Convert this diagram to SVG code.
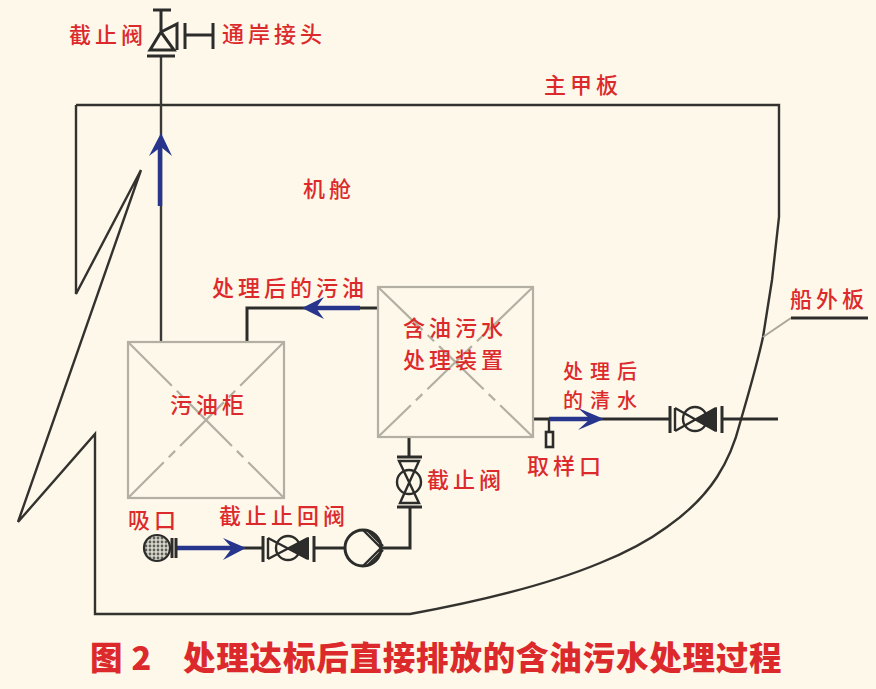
<svg xmlns="http://www.w3.org/2000/svg" width="876" height="689" viewBox="0 0 876 689">
<style>
.l{font-family:"Noto Sans CJK SC","Liberation Sans",sans-serif;font-size:22px;font-weight:500;fill:#dc2a2c;letter-spacing:4px}
.m{font-size:20px;letter-spacing:7px}
.c{font-family:"Noto Sans CJK SC","Liberation Sans",sans-serif;font-size:32.5px;font-weight:900;fill:#dc2a2c;letter-spacing:.8px}
.h{fill:none;stroke:#33322e;stroke-width:2.4;stroke-linejoin:miter}
.p{fill:none;stroke:#2c2c2a;stroke-width:3}
.s{fill:none;stroke:#3a3935;stroke-width:2.4}
.v{fill:none;stroke:#2c2c2a;stroke-width:2.4}
.f{fill:none;stroke:#2c2c2a;stroke-width:3}
.t{fill:none;stroke:#b3b0a3;stroke-width:2.2}
.d{fill:none;stroke:#b3b0a3;stroke-width:2.2;stroke-dasharray:62 7 9 7}
.b{fill:none;stroke:#27358c;stroke-width:4.5}
.a{fill:#27358c}
.k{fill:#2c2c2a}
</style>
<defs>
<pattern id="mesh" width="4" height="4" patternUnits="userSpaceOnUse"><rect width="4" height="4" fill="#d9d7cd"/><circle cx="2" cy="2" r="1.4" fill="#5f5f58"/></pattern>
</defs>
<rect width="876" height="689" fill="#fdf8ea"/>
<g id="hull">
<path class="h" d="M76 105H779V217L772 280L763 337C757 365 751 385 740 423C735 443 728 460 717 477C704 497 687 513 667 527C648 541 625 553 600 563C540 588 470 603 410 614H95V434L18 522L141 170L76 294V105"/>
<path d="M763 337L791 318" fill="none" stroke="#a9a698" stroke-width="2"/>
<path class="p" d="M791 318H868"/>
</g>
<g id="connectors">
<path class="s" d="M161 57V342"/>
<path class="p" d="M378 308H247V342"/>
<path class="p" d="M176 548H263M314 548H345M382 548H410V507"/>
<path class="p" d="M409 457V437"/>
<path class="p" d="M533 419H670M722 419H778"/>
<path class="v" d="M549 420V432"/>
<path class="b" d="M160 206V147"/><path class="a" d="M161 133L172 156L161 147L149 156Z"/>
<path class="b" d="M360 308H312"/><path class="a" d="M302 308L324 297L316 308L324 319Z"/>
<path class="b" d="M176 548H234"/><path class="a" d="M246 548L223 538L232 548L223 560Z"/>
<path class="b" d="M549 419H592"/><path class="a" d="M604 419L578 408L590 419L578 430Z"/>
</g>
<g id="tank-oil">
<rect class="t" x="128" y="342" width="156" height="156"/>
<path class="d" d="M128 342L284 498M284 342L128 498"/>
<text class="l" x="170" y="413">污油柜</text>
</g>
<g id="treatment-unit">
<rect class="t" x="378" y="287" width="155" height="150"/>
<path class="d" d="M378 287L533 437M533 287L378 437"/>
<text class="l" x="403" y="336">含油污水<tspan x="403" y="368">处理装置</tspan></text>
</g>
<g id="top-valve">
<path class="f" d="M153 10H171M161 10V32M147 56H175M150 50H174L161 32ZM161 32L177 24V50"/>
<path class="f" d="M185 23V49M185 35H213M213 23V49"/>
<text class="l" x="69" y="43">截止阀</text>
<text class="l" x="222" y="42">通岸接头</text>
</g>
<g id="unit-valve">
<path class="f" d="M397 457H422M397 507H422"/>
<path class="v" d="M399 461H419L400 503H419Z"/>
<circle class="v" cx="409" cy="482" r="12"/>
<text class="l" x="427" y="488">截止阀</text>
</g>
<g id="suction">
<circle cx="157" cy="548" r="13" fill="url(#mesh)" stroke="#2c2c2a" stroke-width="2.2"/>
<path class="f" d="M172 538V558M176 538V558"/>
<text class="l" x="128" y="528">吸口</text>
</g>
<g id="check-valve">
<path class="f" d="M263 536V562M314 536V562"/>
<path class="v" d="M268 538L308 559M268 559L308 538M268 538V559"/>
<circle class="v" cx="288" cy="548" r="12"/>
<path class="k" d="M288 548L309 537V560Z"/>
<text class="l" x="219" y="524">截止止回阀</text>
</g>
<g id="pump">
<circle class="f" cx="363" cy="548" r="18"/>
<path class="v" d="M363 530L381 548L363 566M367 530L383 546M367 566L383 550"/>
</g>
<g id="outlet-valve">
<path class="f" d="M670 406V433M722 406V433"/>
<path class="v" d="M675 408L716 431M675 431L716 408M675 408V431"/>
<circle class="v" cx="695" cy="419" r="12"/>
<path class="k" d="M695 419L717 407V432Z"/>
</g>
<g id="sample-port">
<rect x="546" y="432" width="7" height="15" fill="none" stroke="#2c2c2a" stroke-width="2.6"/>
<text class="l" x="527" y="474">取样口</text>
</g>
<g id="labels">
<text class="l" x="544" y="93">主甲板</text>
<text class="l" x="303" y="197">机舱</text>
<text class="l" x="212" y="296">处理后的污油</text>
<text class="l m" x="563" y="379">处理后</text>
<text class="l m" x="563" y="408">的清水</text>
<text class="l" x="790" y="307">船外板</text>
<text class="c" x="90" y="670" xml:space="preserve">图 2</text>
<text class="c" x="183" y="670">处理达标后直接排放的含油污水处理过程</text>
</g>
</svg>
